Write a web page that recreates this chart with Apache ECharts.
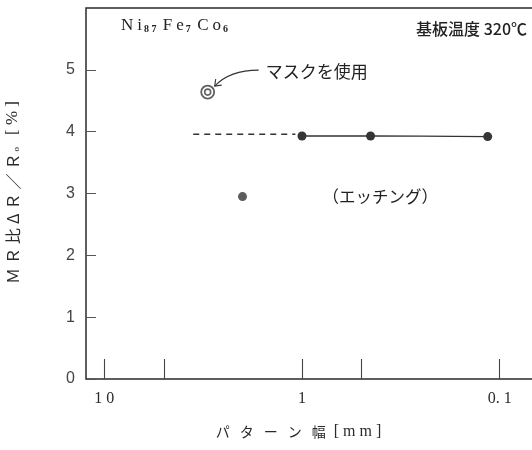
<!DOCTYPE html>
<html><head><meta charset="utf-8">
<script src="https://cdn.jsdelivr.net/npm/echarts@6/dist/echarts.min.js"></script>
<style>html,body{margin:0;padding:0;background:#fff}#c{width:532px;height:450px}</style>
</head><body><div id="c"></div>
<script>
// ---- data ----
const xTickValues = [10, 5, 1, 0.5, 0.1];          // pattern width ticks [mm]
const xLabelValues = [10, 1, 0.1];
const xLabelTexts = ['1 0', '1', '0. 1'];
const yTickValues = [0, 1, 2, 3, 4, 5];
const etchWidth = [1.0, 0.45, 0.115];               // etching, solid line
const etchMR = [3.93, 3.93, 3.92];
const etchDashWidth = [3.55, 1.08];                 // dashed extension
const etchDashMR = [3.96, 3.96];
const etchSingleWidth = [2.0];                      // isolated etching point
const etchSingleMR = [2.95];
const maskWidth = [3.0];                            // using mask
const maskMR = [4.64];

const zip = (a, b) => a.map((v, i) => [v, b[i]]);
const jp = '"Noto Sans CJK JP", sans-serif';
const serif = '"Liberation Serif", "DejaVu Serif", serif';
const ink = '#2a2a2a';

const chart = echarts.init(document.getElementById('c'), null, {renderer: 'canvas'});
const option = {
  backgroundColor: '#fff',
  animation: false,
  grid: {left: 86, top: 8, right: -4, bottom: 71, show: true, outerBoundsMode: 'none', containLabel: false,
         borderColor: '#2a2a2a', borderWidth: 1.5, backgroundColor: 'transparent'},
  xAxis: {
    type: 'log', logBase: 10, inverse: true, min: 0.0655, max: 12.38,
    axisLine: {show: false},
    splitLine: {show: false}, minorTick: {show: false}, minorSplitLine: {show: false},
    axisTick: {show: true, inside: true, length: 20, customValues: xTickValues, lineStyle: {color: '#444', width: 1.1}},
    axisLabel: {
      customValues: xLabelValues, margin: 12, color: ink, fontFamily: serif, fontSize: 16,
      formatter: v => { const i = xLabelValues.findIndex(x => Math.abs(x - v) < 1e-9 * Math.max(1, x)); return i >= 0 ? xLabelTexts[i] : ''; }
    },
    name: '{c|パ}{c|タ}{c|ー}{c|ン}{c|幅}{m|[ m m ]}',
    nameLocation: 'middle', nameGap: 45,
    nameTextStyle: {
      padding: [0, 30, 0, 0],
      rich: {
        c: {fontFamily: jp, fontSize: 14, color: ink, padding: [0, 5, 0, 5]},
        m: {fontFamily: serif, fontSize: 16, color: ink, padding: [0, 0, 0, 3]}
      }
    }
  },
  yAxis: {
    type: 'value', min: 0, max: 6, interval: 1,
    axisLine: {show: false}, splitLine: {show: false},
    axisTick: {show: true, inside: true, length: 10, customValues: yTickValues, lineStyle: {color: '#555', width: 1}},
    axisLabel: {customValues: yTickValues, margin: 11, color: '#444', fontFamily: '"Liberation Sans", Arial, sans-serif', fontSize: 16},
    name: '{a|Ｍ}{a|Ｒ}{a|比}{a|Δ}{a|Ｒ}{a|／}{a|Ｒ}{s|o}{b|[ % ]}',
    nameLocation: 'middle', nameGap: 65,
    nameTextStyle: {
      rich: {
        a: {fontFamily: jp, fontSize: 16, color: ink, padding: [0, 2, 0, 2]},
        s: {fontFamily: serif, fontSize: 9, color: ink, verticalAlign: 'bottom', padding: [6, 12, 0, 0]},
        b: {fontFamily: serif, fontSize: 17, color: ink}
      }
    }
  },
  series: [
    {type: 'line', data: zip(etchDashWidth, etchDashMR), symbol: 'none', lineStyle: {color: '#333', width: 1.5, type: [6, 5]}, z: 2},
    {type: 'line', data: zip(etchWidth, etchMR), smooth: 0.3, symbol: 'circle', symbolSize: 9,
     itemStyle: {color: '#353535'}, lineStyle: {color: '#333', width: 1.3}, z: 3},
    {type: 'scatter', data: zip(etchSingleWidth, etchSingleMR), symbol: 'circle', symbolSize: 9, itemStyle: {color: '#353535'}, z: 3},
    {type: 'scatter', data: zip(maskWidth, maskMR), symbol: 'circle', symbolSize: 13,
     itemStyle: {color: '#fff', borderColor: '#3a3a3a', borderWidth: 1.8}, z: 3},
    {type: 'scatter', data: zip(maskWidth, maskMR), symbol: 'circle', symbolSize: 6,
     itemStyle: {color: '#fff', borderColor: '#3a3a3a', borderWidth: 1.6}, z: 4}
  ]
};
chart.setOption(option);

// annotations placed relative to the data points
const pm = chart.convertToPixel({gridIndex: 0}, [maskWidth[0], maskMR[0]]);
const pe = chart.convertToPixel({gridIndex: 0}, [etchSingleWidth[0], etchSingleMR[0]]);
const tip = [pm[0] + 7, pm[1] - 6];
chart.setOption({
  graphic: [
    {type: 'text', left: 121, top: 17, style: {
      text: '{b|N}{b|i}{s|8 7} {b|F}{b|e}{s|7} {b|C}{b|o}{s|6}',
      rich: {
        b: {fontFamily: serif, fontSize: 17, fill: '#222', padding: [0, 2, 0, 2]},
        s: {fontFamily: serif, fontSize: 10, fontWeight: 'bold', fill: '#222', verticalAlign: 'bottom', padding: [7, 1, 0, 0]}
      }}},
    {type: 'text', x: 527, y: 29, style: {text: '基板温度 320℃', fontFamily: jp, fontSize: 16, fontWeight: 500, fill: '#222', align: 'right', verticalAlign: 'middle'}},
    {type: 'text', x: pm[0] + 58, y: pm[1] - 21, style: {text: 'マスクを使用', fontFamily: jp, fontSize: 17, fill: '#222', align: 'left', verticalAlign: 'middle'}},
    {type: 'bezierCurve', shape: {x1: pm[0] + 51, y1: pm[1] - 22, x2: tip[0], y2: tip[1], cpx1: pm[0] + 22, cpy1: pm[1] - 22}, style: {stroke: '#333', lineWidth: 1.1, fill: null}},
    {type: 'polyline', shape: {points: [[tip[0] + 1, tip[1] - 7], tip, [tip[0] + 7, tip[1] - 1]]}, style: {stroke: '#333', lineWidth: 1.1, fill: null}},
    {type: 'text', x: pe[0] + 80, y: pe[1], style: {text: '（エッチング）', fontFamily: jp, fontSize: 16.5, fill: '#222', align: 'left', verticalAlign: 'middle'}}
  ]
});
</script>
</body></html>
